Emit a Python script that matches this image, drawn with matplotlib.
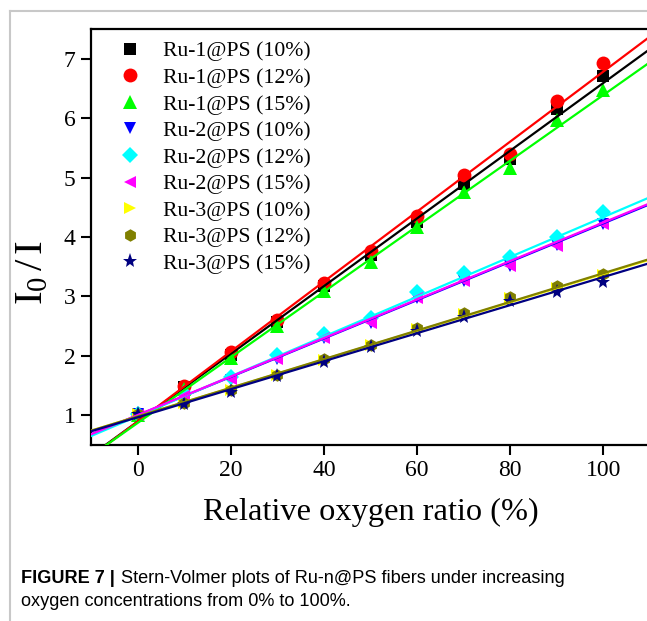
"""Stern-Volmer plots of Ru-n@PS fibers (I0/I vs relative oxygen ratio)."""
import numpy as np
import matplotlib
matplotlib.use('Agg')
import matplotlib.pyplot as plt
from matplotlib.lines import Line2D

plt.rcParams['font.family'] = ['Liberation Serif', 'DejaVu Serif']
plt.rcParams['mathtext.fontset'] = 'custom'
plt.rcParams['mathtext.rm'] = 'Liberation Serif'
plt.rcParams['mathtext.it'] = 'Liberation Serif:italic'

# --- data ---
oxygen = [0, 10, 20, 30, 40, 50, 60, 70, 80, 90, 100]

labels = ['Ru-1@PS (10%)', 'Ru-1@PS (12%)', 'Ru-1@PS (15%)',
          'Ru-2@PS (10%)', 'Ru-2@PS (12%)', 'Ru-2@PS (15%)',
          'Ru-3@PS (10%)', 'Ru-3@PS (12%)', 'Ru-3@PS (15%)']

ru1_10 = [1.00, 1.47, 2.02, 2.57, 3.17, 3.70, 4.25, 4.89, 5.31, 6.16, 6.71]
ru1_12 = [1.02, 1.49, 2.07, 2.61, 3.22, 3.76, 4.36, 5.05, 5.40, 6.29, 6.93]
ru1_15 = [1.00, 1.45, 1.97, 2.50, 3.09, 3.58, 4.17, 4.75, 5.16, 5.97, 6.47]
ru2_10 = [1.02, 1.32, 1.60, 1.95, 2.30, 2.55, 2.97, 3.26, 3.52, 3.86, 4.22]
ru2_12 = [1.03, 1.38, 1.65, 2.02, 2.37, 2.64, 3.08, 3.40, 3.66, 4.00, 4.42]
ru2_15 = [1.00, 1.32, 1.61, 1.94, 2.30, 2.55, 2.97, 3.26, 3.51, 3.85, 4.22]
ru3_10 = [1.02, 1.20, 1.42, 1.68, 1.93, 2.18, 2.45, 2.71, 2.97, 3.15, 3.36]
ru3_12 = [1.03, 1.21, 1.42, 1.68, 1.94, 2.19, 2.47, 2.72, 2.99, 3.17, 3.38]
ru3_15 = [1.02, 1.19, 1.39, 1.66, 1.90, 2.15, 2.42, 2.66, 2.93, 3.07, 3.25]

# linear Stern-Volmer fits: I0/I = intercept + ksv * [O2]
ksv = [0.0570, 0.0589, 0.0552, 0.0323, 0.0335, 0.0324, 0.0240, 0.0241, 0.0236]
intercept = [0.893, 0.894, 0.870, 1.000, 0.985, 1.004, 0.980, 0.981, 0.966]

series = [ru1_10, ru1_12, ru1_15, ru2_10, ru2_12, ru2_15, ru3_10, ru3_12, ru3_15]
colors = ['#000000', '#ff0000', '#00ff00', '#0000ff', '#00ffff', '#ff00ff',
          '#ffff00', '#808000', '#000080']
markers = ['s', 'o', '^', 'v', 'D', '<', '>', 'h', '*']
sizes = [8, 10, 10, 9, 8, 9, 9, 9, 11]

fig = plt.figure(figsize=(6.47, 6.21), dpi=100)
W, H = 647, 621
ax = fig.add_axes([91 / W, 1 - 445 / H, (650 - 91) / W, (445 - 29) / H])

xfit = np.linspace(-10, 110, 50)
for y, c, m, s, lab in zip(series, colors, markers, sizes, labels):
    ax.plot(oxygen, y, linestyle='none', marker=m, color=c, ms=s,
            markeredgewidth=0, label=lab, zorder=3)
for k, b, c in zip(ksv, intercept, colors):
    ax.plot(xfit, b + k * xfit, color=c, lw=1.6, zorder=4)

ax.set_xlim(-10, 110)
ax.set_ylim(0.5, 7.5)
ax.set_xticks([0, 20, 40, 60, 80, 100])
ax.set_yticks([1, 2, 3, 4, 5, 6, 7])
ax.tick_params(direction='out', length=7, width=1.5, labelsize=17, pad=4)
for sp in ax.spines.values():
    sp.set_linewidth(1.6)

ax.set_xlabel('Relative oxygen ratio (%)', fontsize=23.3, labelpad=12)
fig.text(33 / W, 1 - 273 / H, r'$\mathrm{I}_{\mathrm{0}}\,/\,\mathrm{I}$',
         fontsize=29.5, rotation=90, ha='center', va='center')

ax.legend(loc='upper left', bbox_to_anchor=(0.051, 0.971), frameon=False,
          fontsize=15.7, handlelength=1.0, handletextpad=1.0,
          labelspacing=0.29, borderpad=0, borderaxespad=0)

# page border from the screenshot
fig.add_artist(Line2D([10 / W, 10 / W], [0, 1 - 11 / H], color='#c8c8c8', lw=1.5))
fig.add_artist(Line2D([10 / W, 1], [1 - 11 / H, 1 - 11 / H], color='#c8c8c8', lw=1.5))

# caption
cap_kw = dict(family=['Liberation Sans', 'DejaVu Sans'], fontsize=13.1, va='baseline')
t1 = fig.text(21 / W, 1 - 583 / H, 'FIGURE 7 |', weight='bold', **cap_kw)
fig.canvas.draw()
bb = t1.get_window_extent(fig.canvas.get_renderer())
fig.text(bb.x1 / W + 6 / W, 1 - 583 / H,
         'Stern-Volmer plots of Ru-n@PS fibers under increasing', **cap_kw)
fig.text(21 / W, 1 - 606 / H, 'oxygen concentrations from 0% to 100%.', **cap_kw)

fig.savefig('out.png', dpi=100)
